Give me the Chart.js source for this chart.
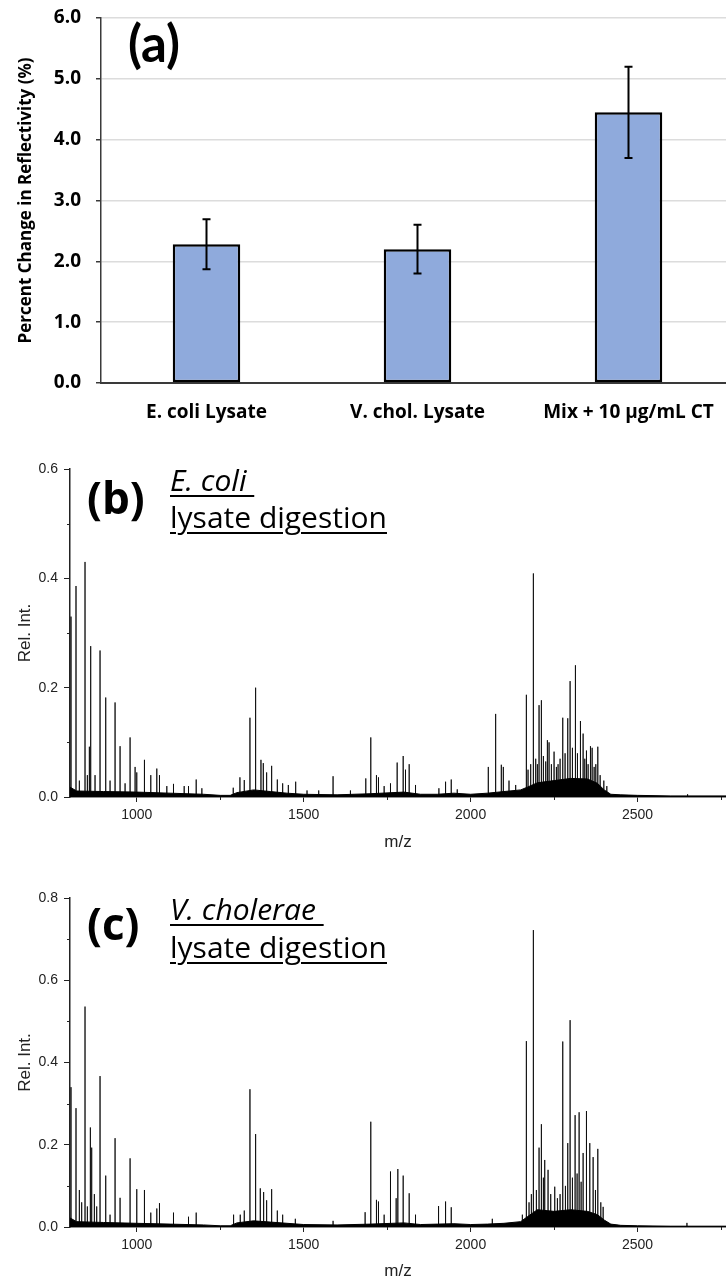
<!DOCTYPE html>
<html>
<head>
<meta charset="utf-8">
<script src="https://cdn.jsdelivr.net/npm/chart.js@4"></script>
<style>
  html, body { margin: 0; padding: 0; background: #fff; width: 726px; height: 1281px; overflow: hidden; position: relative; }
  canvas { position: absolute; left: 0; }
  .lbl { position: absolute; white-space: nowrap; color: #000; line-height: normal; font-family: "Open Sans", sans-serif; }
  .big { font-weight: bold; }
  .ul { font-size: 30px; text-decoration: underline; text-decoration-thickness: 2px; text-underline-offset: 4px; }
</style>
</head>
<body>
<canvas id="barChart" width="734" height="432" style="top:0"></canvas>
<canvas id="ecoliChart" width="726" height="420" style="top:440px"></canvas>
<canvas id="vcholChart" width="726" height="425" style="top:860px"></canvas>

<div class="lbl big" style="left:128px; top:12px; font-size:51px; font-family:Lato, sans-serif">(a)</div>
<div class="lbl big" style="left:87px; top:467px; font-size:44px">(b)</div>
<div class="lbl ul" style="left:170px; top:459px; font-style:italic">E. coli&nbsp;</div>
<div class="lbl ul" style="left:170px; top:496px">lysate digestion</div>
<div class="lbl big" style="left:87px; top:893px; font-size:44px">(c)</div>
<div class="lbl ul" style="left:170px; top:888px; font-style:italic">V. cholerae&nbsp;</div>
<div class="lbl ul" style="left:170px; top:926px">lysate digestion</div>

<script>
// (a) reflectivity bar chart
const categories = ['E. coli Lysate', 'V. chol. Lysate', 'Mix + 10 µg/mL CT'];
const reflectivityChange = [2.28, 2.20, 4.45];
const reflectivityError = [0.41, 0.40, 0.75];

// (b) E. coli lysate digestion, peaks (m/z, rel. int.)
const ecoliPeakMz = [803, 818, 828, 845, 852, 858, 862, 875, 890, 907, 920, 935, 950, 965, 980, 995,
  1000, 1023, 1042, 1060, 1068, 1090, 1110, 1142, 1155, 1178, 1195, 1289, 1309, 1322, 1339, 1356,
  1372, 1379, 1389, 1404, 1421, 1437, 1454, 1476, 1510, 1545, 1588, 1640, 1686, 1701, 1718, 1724,
  1741, 1760, 1780, 1798, 1805, 1816, 1835, 1905, 1925, 1942, 1960, 2053, 2075, 2092, 2098, 2115,
  2135, 2167, 2172, 2180, 2188, 2195, 2200, 2205, 2212, 2218, 2225, 2230, 2235, 2242, 2250, 2257,
  2262, 2268, 2276, 2283, 2291, 2298, 2305, 2314, 2320, 2329, 2337, 2342, 2347, 2352, 2359, 2364,
  2370, 2375, 2381, 2388, 2399, 2408, 2650];
const ecoliPeakInt = [0.33, 0.386, 0.03, 0.43, 0.04, 0.092, 0.276, 0.04, 0.268, 0.182, 0.03, 0.173, 0.093, 0.025, 0.109, 0.055,
  0.045, 0.068, 0.04, 0.052, 0.04, 0.02, 0.024, 0.02, 0.02, 0.032, 0.016, 0.017, 0.036, 0.031, 0.145, 0.20,
  0.068, 0.062, 0.045, 0.057, 0.032, 0.025, 0.022, 0.028, 0.012, 0.012, 0.038, 0.012, 0.034, 0.109, 0.04, 0.036,
  0.02, 0.025, 0.063, 0.075, 0.05, 0.06, 0.022, 0.016, 0.028, 0.032, 0.014, 0.055, 0.152, 0.059, 0.055, 0.03,
  0.022, 0.187, 0.05, 0.06, 0.409, 0.07, 0.06, 0.168, 0.177, 0.075, 0.065, 0.104, 0.10, 0.06, 0.083, 0.055,
  0.06, 0.07, 0.145, 0.08, 0.144, 0.212, 0.09, 0.241, 0.08, 0.139, 0.116, 0.07, 0.085, 0.06, 0.093, 0.09,
  0.055, 0.06, 0.092, 0.04, 0.03, 0.02, 0.005];
// baseline "grass" level
const ecoliBaseMz = [800, 820, 900, 1000, 1100, 1200, 1250, 1280, 1300, 1350, 1400, 1450, 1500, 1600, 1700,
  1800, 1850, 1900, 1950, 2000, 2050, 2100, 2150, 2170, 2200, 2250, 2300, 2350, 2380, 2400, 2420, 2450,
  2500, 2600, 2765];
const ecoliBaseInt = [0.018, 0.011, 0.01, 0.009, 0.007, 0.005, 0.003, 0.003, 0.008, 0.013, 0.01, 0.007, 0.005, 0.004, 0.006,
  0.009, 0.005, 0.005, 0.007, 0.005, 0.007, 0.01, 0.013, 0.018, 0.026, 0.03, 0.034, 0.033, 0.025, 0.013, 0.005, 0.004,
  0.003, 0.002, 0.002];

// (c) V. cholerae lysate digestion
const vcholPeakMz = [803, 818, 828, 835, 845, 852, 861, 865, 873, 880, 890, 907, 920, 935, 950, 980,
  1000, 1023, 1042, 1060, 1068, 1110, 1155, 1178, 1290, 1310, 1322, 1339, 1356, 1370, 1380, 1389,
  1404, 1421, 1437, 1475, 1588, 1684, 1701, 1718, 1724, 1741, 1760, 1777, 1782, 1798, 1816, 1835,
  1904, 1925, 1942, 2065, 2155, 2167, 2175, 2182, 2188, 2197, 2205, 2212, 2218, 2222, 2232, 2240,
  2252, 2260, 2268, 2276, 2284, 2291, 2298, 2305, 2313, 2319, 2325, 2331, 2337, 2347, 2357, 2367,
  2374, 2381, 2390, 2397, 2648];
const vcholPeakInt = [0.34, 0.289, 0.09, 0.06, 0.536, 0.05, 0.242, 0.193, 0.08, 0.05, 0.367, 0.125, 0.03, 0.216, 0.071, 0.167,
  0.092, 0.09, 0.035, 0.045, 0.058, 0.035, 0.025, 0.035, 0.03, 0.03, 0.04, 0.335, 0.226, 0.094, 0.085, 0.065,
  0.092, 0.04, 0.03, 0.02, 0.015, 0.036, 0.256, 0.066, 0.062, 0.03, 0.135, 0.07, 0.141, 0.125, 0.082, 0.03,
  0.051, 0.062, 0.048, 0.02, 0.03, 0.452, 0.06, 0.08, 0.722, 0.09, 0.193, 0.25, 0.12, 0.163, 0.139, 0.08,
  0.098, 0.07, 0.08, 0.451, 0.1, 0.204, 0.503, 0.12, 0.272, 0.13, 0.279, 0.11, 0.18, 0.282, 0.204, 0.17,
  0.09, 0.19, 0.06, 0.049, 0.01];
const vcholBaseMz = [800, 820, 900, 1000, 1100, 1200, 1250, 1280, 1300, 1350, 1400, 1450, 1500, 1600, 1700,
  1800, 1850, 1900, 1950, 2000, 2050, 2100, 2150, 2170, 2200, 2250, 2300, 2350, 2380, 2400, 2420, 2450,
  2500, 2600, 2765];
const vcholBaseInt = [0.022, 0.013, 0.011, 0.009, 0.007, 0.005, 0.003, 0.003, 0.01, 0.015, 0.012, 0.009, 0.006, 0.005, 0.007,
  0.01, 0.006, 0.007, 0.008, 0.006, 0.007, 0.009, 0.013, 0.025, 0.042, 0.038, 0.042, 0.038, 0.03, 0.017, 0.007, 0.004,
  0.003, 0.002, 0.002];

const mzTicks = [1000, 1500, 2000, 2500];
const mzMinorTicks = [1250, 1750, 2250, 2750];

const errorBars = {
  id: 'errorBars',
  afterDatasetsDraw(chart) {
    const { ctx } = chart;
    const y = chart.scales.y;
    ctx.save();
    ctx.strokeStyle = '#000';
    ctx.lineWidth = 2;
    chart.getDatasetMeta(0).data.forEach((bar, i) => {
      const top = y.getPixelForValue(reflectivityChange[i] + reflectivityError[i]);
      const bot = y.getPixelForValue(reflectivityChange[i] - reflectivityError[i]);
      ctx.beginPath();
      ctx.moveTo(bar.x, top); ctx.lineTo(bar.x, bot);
      ctx.moveTo(bar.x - 4, top); ctx.lineTo(bar.x + 4, top);
      ctx.moveTo(bar.x - 4, bot); ctx.lineTo(bar.x + 4, bot);
      ctx.stroke();
    });
    ctx.restore();
  }
};

const minorTicks = {
  id: 'minorTicks',
  afterDraw(chart, args, opts) {
    const { ctx } = chart;
    const x = chart.scales.x, y = chart.scales.y;
    ctx.save();
    ctx.strokeStyle = '#222';
    ctx.lineWidth = 1;
    ctx.beginPath();
    opts.x.forEach(v => {
      const px = Math.round(x.getPixelForValue(v)) + 0.5;
      ctx.moveTo(px, x.top); ctx.lineTo(px, x.top + 3);
    });
    opts.y.forEach(v => {
      const py = Math.round(y.getPixelForValue(v)) + 0.5;
      ctx.moveTo(y.right - 3, py); ctx.lineTo(y.right, py);
    });
    ctx.stroke();
    ctx.restore();
  }
};

const boldFont = size => ({ family: '"Open Sans", sans-serif', weight: 'bold', size });

new Chart(document.getElementById('barChart'), {
  type: 'bar',
  data: {
    labels: categories,
    datasets: [{
      data: reflectivityChange,
      backgroundColor: '#8faadc',
      borderColor: '#000',
      borderWidth: 2.5,
      borderSkipped: false,
      barPercentage: 0.32,
      categoryPercentage: 1,
    }],
  },
  options: {
    responsive: false,
    animation: false,
    layout: { padding: { top: 18, right: 0, left: 0, bottom: 0 } },
    plugins: { legend: { display: false }, tooltip: { enabled: false } },
    scales: {
      x: {
        grid: { display: false },
        border: { color: '#3a3a3a', width: 2 },
        ticks: { color: '#000', font: boldFont(19), padding: 10, maxRotation: 0 },
        afterFit: s => { s.height = 49; },
      },
      y: {
        min: 0,
        max: 6,
        ticks: { stepSize: 1, callback: v => v.toFixed(1), color: '#000', font: boldFont(19), padding: 15 },
        grid: { color: '#dcdcdc', lineWidth: 1.5, tickColor: '#3a3a3a', tickLength: 5 },
        border: { color: '#3a3a3a', width: 1.5 },
        title: { display: true, text: 'Percent Change in Reflectivity (%)', color: '#000', font: boldFont(17), padding: { top: 16 } },
        afterFit: s => { s.width = 101; s.paddingTop = 0; s.paddingBottom = 0; },
      },
    },
  },
  plugins: [errorBars],
});

function sticks(mz, inten) {
  const pts = [];
  mz.forEach((m, i) => { pts.push({ x: m, y: 0 }, { x: m, y: inten[i] }, { x: m, y: 0 }); });
  return pts;
}

function baseline(mz, inten) {
  return mz.map((m, i) => ({ x: m, y: inten[i] }));
}

const arial = size => ({ family: '"Liberation Sans", Arial, sans-serif', size });

function spectrum(id, peakMz, peakInt, baseMz, baseInt, yMax, yMinor, padTop, axisH, titlePad) {
  return new Chart(document.getElementById(id), {
    type: 'line',
    data: {
      datasets: [
        { data: baseline(baseMz, baseInt), parsing: false, borderColor: '#000', backgroundColor: '#000', borderWidth: 1, fill: 'origin', pointRadius: 0, tension: 0 },
        { data: sticks(peakMz, peakInt), parsing: false, borderColor: 'rgba(0,0,0,0.8)', borderWidth: 1, fill: false, pointRadius: 0, tension: 0 },
      ],
    },
    options: {
      responsive: false,
      animation: false,
      layout: { padding: { top: padTop, right: 0, left: 0, bottom: 0 } },
      plugins: { legend: { display: false }, tooltip: { enabled: false }, minorTicks: { x: mzMinorTicks, y: yMinor } },
      scales: {
        x: {
          type: 'linear',
          min: 800,
          max: 2765,
          afterBuildTicks: s => { s.ticks = mzTicks.map(v => ({ value: v })); },
          ticks: { callback: v => String(v), color: '#222', font: arial(14), padding: 5, maxRotation: 0 },
          grid: { drawOnChartArea: false, tickLength: 5, tickColor: '#222' },
          border: { color: '#222', width: 1.5 },
          title: { display: true, text: 'm/z', color: '#222', font: arial(17), padding: { top: 0, bottom: titlePad } },
          afterFit: s => { s.height = axisH; },
        },
        y: {
          min: 0,
          max: yMax,
          ticks: { stepSize: 0.2, callback: v => v.toFixed(1), color: '#222', font: arial(14), padding: 6 },
          grid: { drawOnChartArea: false, tickLength: 6, tickColor: '#222' },
          border: { color: '#222', width: 1.5 },
          title: { display: true, text: 'Rel. Int.', color: '#222', font: arial(17), padding: { top: 15 } },
          afterFit: s => { s.width = 70; s.paddingTop = 0; s.paddingBottom = 0; },
        },
      },
    },
    plugins: [minorTicks],
  });
}

spectrum('ecoliChart', ecoliPeakMz, ecoliPeakInt, ecoliBaseMz, ecoliBaseInt, 0.6, [0.1, 0.3, 0.5], 29, 63, 7);
spectrum('vcholChart', vcholPeakMz, vcholPeakInt, vcholBaseMz, vcholBaseInt, 0.8, [0.1, 0.3, 0.5, 0.7], 38, 58, 3);
</script>
</body>
</html>
